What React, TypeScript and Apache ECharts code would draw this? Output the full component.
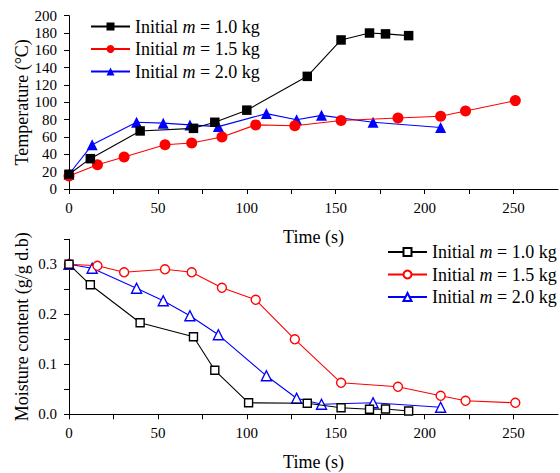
import React, { useEffect, useRef } from "react";
import * as echarts from "echarts";

// ---- Data ----
const massLabels = ["1.0", "1.5", "2.0"];
const colors = ["#000000", "#ff0000", "#0000ff"];

const tempM10: [number, number][] = [[0, 17], [12, 35], [40, 67], [70, 70], [82, 77], [100, 91], [134, 130], [153, 172], [169, 180], [178, 179], [191, 177]];
const tempM15: [number, number][] = [[0, 15], [16, 28], [31, 37], [54, 51], [69, 53], [86, 60], [105, 74], [127, 73], [153, 79], [185, 82], [209, 84], [223, 90], [251, 102]];
const tempM20: [number, number][] = [[0, 17], [13, 51], [38, 77], [53, 76], [68, 74], [84, 72], [111, 87], [128, 80], [142, 85], [171, 77], [209, 71]];

const moistM10: [number, number][] = [[0, 0.3], [12, 0.259], [40, 0.183], [70, 0.155], [82, 0.088], [101, 0.023], [134, 0.022], [153, 0.013], [169, 0.01], [178, 0.0105], [191, 0.0066]];
const moistM15: [number, number][] = [[0, 0.3], [16, 0.297], [31, 0.284], [54, 0.29], [69, 0.284], [86, 0.253], [105, 0.229], [127, 0.15], [153, 0.063], [185, 0.055], [209, 0.037], [223, 0.027], [251, 0.023]];
const moistM20: [number, number][] = [[0, 0.3], [13, 0.292], [38, 0.252], [53, 0.227], [68, 0.197], [84, 0.159], [111, 0.077], [128, 0.032], [142, 0.02], [171, 0.023], [209, 0.014]];

const xTicksMax = 275;
const tempMax = 200;
const moistMax = 0.35;

const FONT = "Liberation Serif";

export default function App() {
  const ref = useRef<HTMLDivElement>(null);
  useEffect(() => {
    if (!ref.current) return;
    const chart = echarts.init(ref.current, undefined, { renderer: "svg" });

    const tempData = [tempM10, tempM15, tempM20];
    const moistData = [moistM10, moistM15, moistM20];
    const symbols = ["rect", "circle", "triangle"];
    const filledSizes = [9.5, 11, 11];
    const openSizes = [8, 9, 10];

    const labelStyle = { fontFamily: FONT, fontSize: 15, color: "#000", fontWeight: "normal" };
    const labelRich = { s: { ...labelStyle } };

    const axisCommon = {
      axisLine: { show: true, onZero: false, lineStyle: { color: "#000", width: 1 } },
      axisTick: { show: true, inside: false, length: 5, lineStyle: { color: "#000", width: 1 } },
      splitLine: { show: false },
      nameMoveOverlap: false,
      nameTextStyle: { fontFamily: FONT, fontSize: 18, color: "#000", fontWeight: "normal" },
    };

    const xAxisOf = (gridIndex: number) => ({
      ...axisCommon,
      type: "value",
      gridIndex,
      min: 0,
      max: xTicksMax,
      interval: 25,
      name: "Time (s)",
      nameLocation: "middle",
      nameGap: 39,
      axisLabel: {
        ...labelStyle,
        rich: labelRich,
        margin: 11,
        showMaxLabel: false,
        formatter: (v: number) => (v % 50 === 0 ? `{s|${v}}` : ""),
      },
    });

    const legendFormatter = (name: string) => {
      const idx = Number(name.slice(1));
      return `{a|Initial }{i|m}{a| = ${massLabels[idx]} kg}`;
    };
    const legendRich = {
      a: { fontFamily: FONT, fontSize: 18, color: "#000", lineHeight: 20 },
      i: { fontFamily: FONT, fontSize: 18, color: "#000", fontStyle: "italic", lineHeight: 20 },
    };

    const series: any[] = [];
    tempData.forEach((d, i) => {
      series.push({
        type: "line",
        name: "T" + i,
        xAxisIndex: 0,
        yAxisIndex: 0,
        data: d,
        symbol: symbols[i],
        symbolSize: filledSizes[i],
        lineStyle: { color: colors[i], width: 1.1 },
        itemStyle: { color: colors[i] },
        z: 3 - i,
      });
    });
    moistData.forEach((d, i) => {
      series.push({
        type: "line",
        name: "M" + i,
        xAxisIndex: 1,
        yAxisIndex: 1,
        data: d,
        symbol: symbols[i],
        symbolSize: openSizes[i],
        showAllSymbol: true,
        lineStyle: { color: colors[i], width: 1.1 },
        itemStyle: { color: "#ffffff", borderColor: colors[i], borderWidth: 1.4 },
        z: 3 - i,
      });
    });

    const legendCommon = {
      orient: "vertical",
      padding: 0,
      itemWidth: 39,
      itemHeight: 10,
      itemGap: 4.5,
      formatter: legendFormatter,
      textStyle: { fontFamily: FONT, fontSize: 18, rich: legendRich },
      selectedMode: false,
    };

    chart.setOption({
      animation: false,
      backgroundColor: "#ffffff",
      textStyle: { fontFamily: FONT },
      grid: [
        { left: 69, top: 15.7, width: 489, height: 173.3 },
        { left: 69, top: 239.3, width: 489, height: 175 },
      ],
      xAxis: [xAxisOf(0), xAxisOf(1)],
      yAxis: [
        {
          ...axisCommon,
          type: "value",
          gridIndex: 0,
          min: 0,
          max: tempMax,
          interval: 20,
          name: "Temperature (°C)",
          nameLocation: "middle",
          nameGap: 38,
          axisLabel: {
            ...labelStyle,
            rich: labelRich,
            margin: 12,
            formatter: (v: number) => `{s|${v}}`,
          },
        },
        {
          ...axisCommon,
          type: "value",
          gridIndex: 1,
          min: 0,
          max: moistMax,
          interval: 0.05,
          name: "Moisture content (g/g d.b)",
          nameLocation: "middle",
          nameGap: 38,
          axisLabel: {
            ...labelStyle,
            rich: labelRich,
            margin: 12,
            formatter: (v: number) => {
              const k = Math.round(v * 100);
              return k % 10 === 0 ? `{s|${(k / 100).toFixed(1)}}` : "";
            },
          },
        },
      ],
      legend: [
        { ...legendCommon, data: ["T0", "T1", "T2"], left: 90, top: 17.5 },
        { ...legendCommon, data: ["M0", "M1", "M2"], left: 387, top: 243 },
      ],
      series,
    });

    return () => chart.dispose();
  }, []);

  return (
    <div
      ref={ref}
      style={{ position: "fixed", left: 0, top: 0, width: 560, height: 473, background: "#fff" }}
    />
  );
}
